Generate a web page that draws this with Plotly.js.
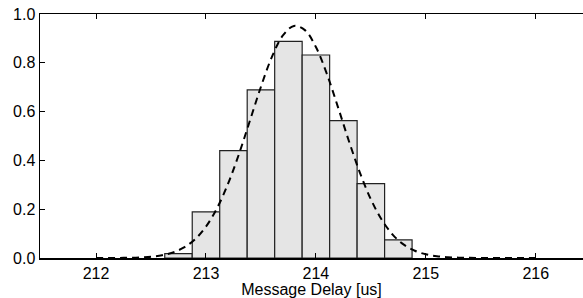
<!DOCTYPE html>
<html>
<head>
<meta charset="utf-8">
<script src="https://cdn.plot.ly/plotly-3.0.1.min.js"></script>
<style>html,body{margin:0;padding:0;background:#fff;}#chart{width:583px;height:298px;}</style>
</head>
<body>
<div id="chart"></div>
<script>
// Histogram bins (centers, us) and normalized heights
const binCenters = [212.75, 213.0, 213.25, 213.5, 213.75, 214.0, 214.25, 214.5, 214.75];
const binHeights = [0.018, 0.189, 0.440, 0.689, 0.888, 0.832, 0.563, 0.305, 0.074];

// Fitted density curve
const curveX = [212.0, 212.1, 212.2, 212.3, 212.4, 212.5, 212.6, 212.7, 212.8, 212.9,
                213.0, 213.1, 213.2, 213.3, 213.4, 213.5, 213.6, 213.7, 213.8, 213.9,
                214.0, 214.1, 214.2, 214.3, 214.4, 214.5, 214.6, 214.7, 214.8, 214.9,
                215.0, 215.1, 215.2, 215.3, 215.4, 215.5, 215.6, 215.7, 215.8, 215.9, 216.0];
const curveY = [0.0000, 0.0001, 0.0004, 0.0010, 0.0024, 0.0053, 0.0114, 0.0228, 0.0431, 0.0767,
                0.1288, 0.2037, 0.3034, 0.4259, 0.5634, 0.7020, 0.8243, 0.9121, 0.9509, 0.9340,
                0.8645, 0.7540, 0.6196, 0.4797, 0.3500, 0.2406, 0.1558, 0.0951, 0.0547, 0.0296,
                0.0151, 0.0073, 0.0033, 0.0014, 0.0006, 0.0002, 0.0001, 0.0000, 0.0000, 0.0000, 0.0000];

const xTicks = [212, 213, 214, 215, 216];
const yTicks = [0.0, 0.2, 0.4, 0.6, 0.8, 1.0];

const traces = [
  {
    type: 'bar', x: binCenters, y: binHeights, width: 0.25,
    marker: {color: '#e5e5e5', line: {color: '#222', width: 1.2}},
    hoverinfo: 'skip', showlegend: false
  },
  {
    type: 'scatter', mode: 'lines', x: curveX, y: curveY,
    line: {color: '#000', width: 2, dash: '7px,5px', shape: 'spline'},
    hoverinfo: 'skip', showlegend: false
  }
];

const layout = {
  width: 583, height: 298,
  margin: {l: 40, r: 0, t: 14, b: 40},
  paper_bgcolor: '#fff', plot_bgcolor: '#fff',
  font: {family: 'Liberation Sans, Arial, sans-serif', size: 16, color: '#000'},
  showlegend: false,
  bargap: 0,
  xaxis: {
    range: [211.49, 216.43], tickvals: xTicks, ticktext: xTicks.map(String),
    ticks: 'inside', ticklen: 5, tickwidth: 1, tickcolor: '#000',
    showline: true, linecolor: '#000', linewidth: 1.5, mirror: 'ticks',
    showgrid: false, zeroline: false, tickfont: {size: 16},
    title: {text: 'Message Delay [us]', font: {size: 16}, standoff: 0}
  },
  yaxis: {
    range: [0, 1.0], tickvals: yTicks, ticktext: yTicks.map(v => v.toFixed(1)),
    ticks: 'inside', ticklen: 5, tickwidth: 1, tickcolor: '#000',
    showline: true, linecolor: '#000', linewidth: 1.5, tickfont: {size: 16},
    showgrid: false, zeroline: false
  }
};

Plotly.newPlot('chart', traces, layout, {displayModeBar: false, staticPlot: true});
</script>
</body>
</html>
